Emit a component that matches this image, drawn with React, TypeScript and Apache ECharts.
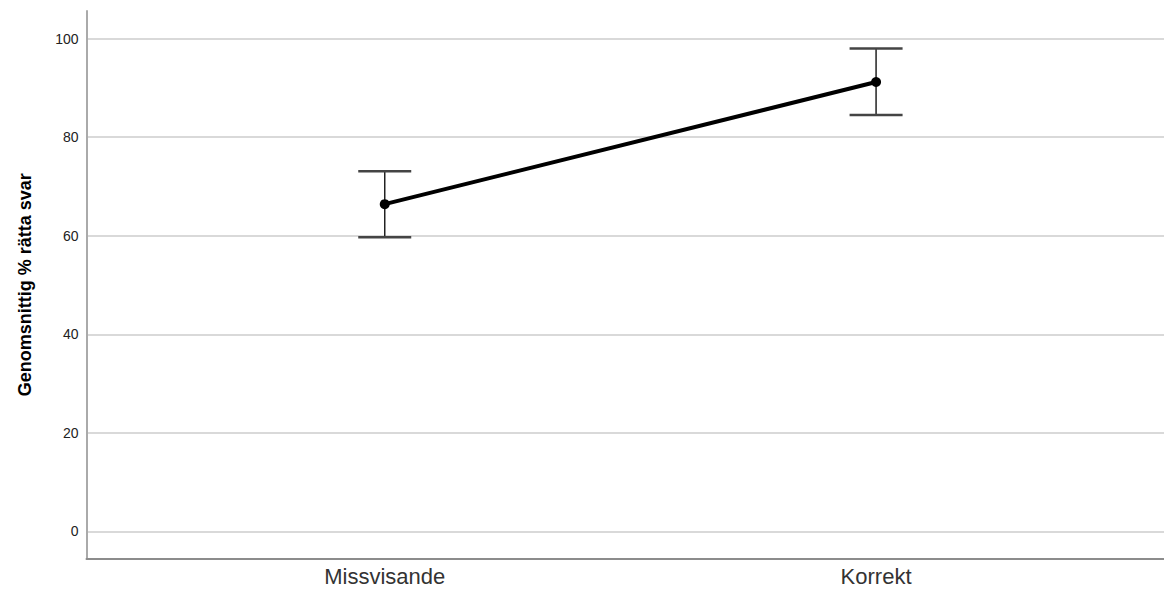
import React, { useEffect, useRef } from "react";
import * as echarts from "echarts";

const categories = ["Missvisande", "Korrekt"];
const means = [66.4, 91.2];
const lower = [59.7, 84.5];
const upper = [73.1, 98.0];
const yTicks = [0, 20, 40, 60, 80, 100];
const yName = "Genomsnittig % rätta svar";

export default function App() {
  const ref = useRef<HTMLDivElement>(null);
  useEffect(() => {
    if (!ref.current) return;
    const chart = echarts.init(ref.current, undefined, { renderer: "svg" });
    const xs = categories.map((_, i) => i);
    const font = "Liberation Sans, Arial, sans-serif";
    chart.setOption({
      animation: false,
      grid: { left: 86.5, right: 0, top: 11, bottom: 32.5, containLabel: false },
      xAxis: {
        type: "value",
        min: -0.607,
        max: 1.586,
        splitLine: { show: false },
        axisLine: { show: true, onZero: false, lineStyle: { color: "#8c8c8c", width: 2 } },
        axisTick: { show: false, customValues: xs },
        axisLabel: {
          customValues: xs,
          formatter: (v: number) => categories[Math.round(v)] ?? "",
          fontSize: 22,
          color: "#333",
          fontFamily: font,
          margin: 7,
        },
      },
      yAxis: {
        type: "value",
        min: -5.5,
        max: 105.6,
        name: yName,
        nameLocation: "middle",
        nameGap: 53,
        nameTextStyle: {
          fontSize: 18,
          fontWeight: "bold",
          color: "#000",
          fontFamily: font,
        },
        axisLine: { show: true, onZero: false, lineStyle: { color: "#aaaaaa", width: 2 } },
        axisTick: { show: false, customValues: yTicks },
        axisLabel: {
          customValues: yTicks,
          fontSize: 14,
          color: "#222",
          fontFamily: font,
          margin: 8,
        },
        splitLine: { show: true, lineStyle: { color: "#d9d9d9", width: 2 } },
      },
      series: [
        {
          type: "custom",
          data: xs.map((i) => [i, lower[i], upper[i]]),
          renderItem: (params: any, api: any) => {
            const x = api.value(0);
            const lo = api.coord([x, api.value(1)]);
            const hi = api.coord([x, api.value(2)]);
            const hw = 26.5;
            return {
              type: "group",
              children: [
                { type: "line", shape: { x1: lo[0], y1: lo[1], x2: hi[0], y2: hi[1] }, style: { stroke: "#222", lineWidth: 1.5 } },
                { type: "line", shape: { x1: hi[0] - hw, y1: hi[1], x2: hi[0] + hw, y2: hi[1] }, style: { stroke: "#444", lineWidth: 2.5 } },
                { type: "line", shape: { x1: lo[0] - hw, y1: lo[1], x2: lo[0] + hw, y2: lo[1] }, style: { stroke: "#444", lineWidth: 2.5 } },
              ],
            };
          },
          z: 2,
        },
        {
          type: "line",
          data: xs.map((i) => [i, means[i]]),
          symbol: "circle",
          symbolSize: 10,
          lineStyle: { color: "#000", width: 4 },
          itemStyle: { color: "#000" },
          z: 3,
        },
      ],
    });
    return () => chart.dispose();
  }, []);
  return (
    <div
      ref={ref}
      style={{ position: "absolute", left: 0, top: 0, width: 1164, height: 591 }}
    />
  );
}
